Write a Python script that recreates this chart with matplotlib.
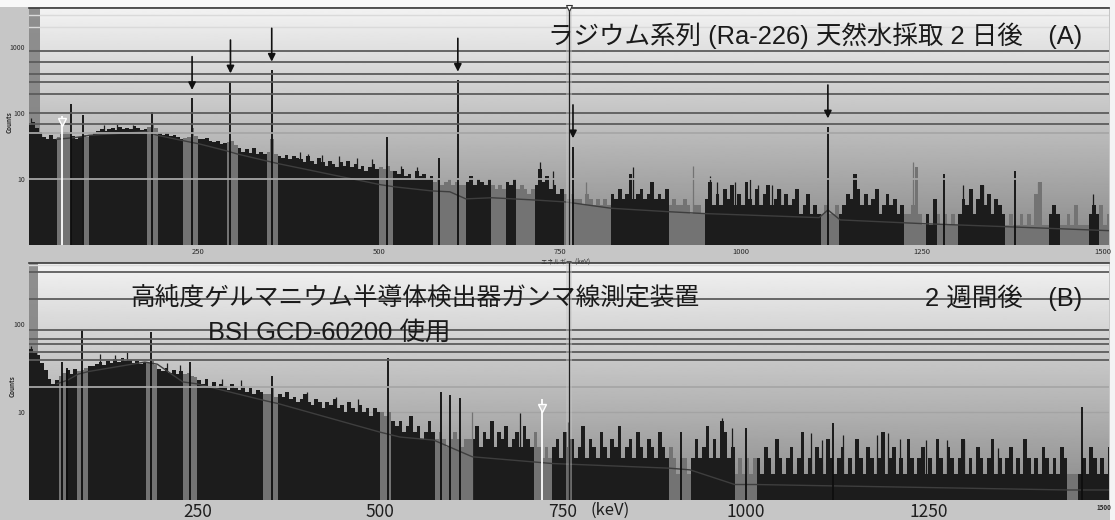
import numpy as np
import matplotlib
matplotlib.use("Agg")
import matplotlib.pyplot as plt
from matplotlib.patches import Rectangle
from matplotlib.ticker import NullLocator, FixedLocator, FixedFormatter

plt.rcParams['font.family'] = ['Noto Sans CJK JP', 'DejaVu Sans']

W, H, DPI = 1115, 520, 100

# energy binning of the spectra (keV)
BIN_START = 15
BIN_WIDTH = 5

# ---------------- (A) 2 days after sampling ----------------
counts_a_low = [  # 15-515 keV
    66, 74, 60, 52, 44, 40, 46, 41, 44, 48, 52, 50, 45, 40, 43, 46, 44, 47, 49,
    54, 57, 53, 58, 60, 56, 62, 58, 60, 57, 63, 59, 56, 58,
    62, 66, 60, 50, 47, 49, 45, 47, 43, 41, 42, 44, 60, 45, 40,
    40, 42, 38, 36, 38, 34, 35, 36, 38, 33,
    29, 26, 28, 25, 30, 24, 26, 24, 26, 40, 24, 22, 21, 23, 20, 22, 21,
    20, 18, 22, 19, 17, 21, 18, 16, 19, 17, 15, 18, 16, 19, 15, 17, 14, 16, 13, 15, 17, 14, 15,
    14, 16]
counts_a_mid = [  # 515-1015 keV
    13, 13, 12, 14, 11, 12, 10, 13, 11, 12, 10, 11,
    9, 10, 8, 9, 10, 8, 9, 8, 8,
    9, 11, 8, 10, 9, 8, 10, 8, 7, 8, 7, 9, 8, 10, 7, 8, 7, 6, 7,
    8, 14, 9, 11, 7, 8, 6, 7, 6,
    5, 6, 5, 5, 4, 6, 5, 4, 5, 4, 5, 4,
    6, 5, 7, 5, 6, 12, 5, 6, 7, 5, 6, 9, 5, 6, 5, 7,
    4, 5, 4, 4, 5, 4, 3, 4, 4, 3,
    5, 9, 4, 6, 4, 7, 5, 8, 4, 6, 4, 9, 5]
counts_a_high = [  # 1015-1510 keV
    4, 7, 4, 6, 8, 4, 5, 7, 4, 6, 4, 5, 7, 3, 4, 6, 3, 4, 3,
    3, 4, 3, 3, 4, 3,
    4, 6, 5, 12, 7, 4, 6, 4, 5, 7, 3, 4, 6, 4, 5, 3, 4,
    3, 3, 4, 15, 3, 2, 3, 2, 5, 3, 2, 3, 2, 3, 2,
    3, 5, 4, 7, 3, 5, 8, 4, 6, 3, 5, 4, 3,
    2, 3, 2, 2, 3, 2, 3, 2, 6, 9, 2, 2, 3, 4, 3,
    2, 2, 3, 2, 4, 2, 2, 2, 3, 4, 3, 4, 2, 3]

rois_a = [(55, 76), (91, 100), (178, 194), (230, 252), (288, 304), (343, 362),
          (502, 522), (573, 620), (656, 677), (692, 716), (757, 821), (899, 948),
          (1108, 1137), (1224, 1254), (1268, 1298), (1363, 1424), (1441, 1478),
          (1496, 1510)]
peaks_a_kev = [75, 92, 186, 242, 295, 352, 511, 583, 609, 768, 1120, 1281, 1378]
peaks_a_cnt = [137, 93, 103, 167, 298, 449, 43, 21, 316, 31, 62, 12, 13]
spikes_a_kev = [20, 33, 120, 138, 161, 391, 402, 421, 445, 470, 490, 531, 553,
                722, 740, 786, 851, 934, 957, 967, 992, 1013, 1024, 1043, 1054,
                1077, 1238, 1307, 1334, 1410, 1486]
spikes_a_cnt = [84, 48, 66, 68, 66, 26, 24, 23, 22, 21, 20, 16, 15,
                18, 13, 9, 15, 16, 11, 9, 9, 10, 8, 8, 7,
                7, 18, 8, 8, 9, 6]
arrows_a_kev = [242, 295, 352, 609, 768, 1120]
cont_a_kev = [55, 76, 91, 100, 178, 194, 230, 252, 288, 304, 343, 362, 502, 522,
              573, 598, 620, 656, 716, 757, 821, 899, 948, 1108, 1120, 1137,
              1254, 1363, 1508]
cont_a_cnt = [40, 42, 44, 46, 52, 46, 38, 34, 27, 24, 19, 17, 8.2, 7.6,
              6.6, 6.4, 5.0, 5.2, 4.8, 4.5, 3.6, 3.2, 3.0, 2.6, 3.4, 2.4,
              2.1, 1.9, 1.65]
grid_a_dark = [880, 593, 390, 295, 194, 100, 68]
grid_a_light = [50, 10]
grid_a_faint = [3055, 2010]

# ---------------- (B) 2 weeks after sampling ----------------
counts_b_low = [  # 15-515 keV
    48, 52, 47, 44, 36, 30, 24, 21, 23, 26, 28, 30, 27, 31, 29, 30, 32, 33,
    33, 35, 37, 34, 38, 36, 40, 37, 41, 38, 39, 36, 38, 35, 37,
    36, 38, 34, 31, 29, 32, 28, 30, 27, 29, 27, 28, 26, 25,
    23, 21, 24, 20, 22, 19, 21, 20, 18, 21, 19, 18, 20, 17, 19, 16, 18, 17, 16,
    16, 19, 15,
    16, 15, 17, 14, 15, 13, 14, 16, 13, 12, 14, 13, 11, 13, 12, 14, 11, 12, 10, 13,
    11, 10, 12, 10, 11, 9, 11, 10,
    10, 9, 10]
counts_b_mid = [  # 515-1015 keV
    8, 7, 8, 6, 7, 9, 6, 7, 5, 6, 8, 6,
    5, 6, 5, 4, 5, 6, 5, 4, 5, 5,
    5, 7, 4, 6, 5, 8, 4, 6, 5, 7, 4, 5, 6, 4, 7, 5, 4, 6,
    4, 3, 4, 3,
    4, 5, 3, 6, 4, 5, 3, 4, 7, 3, 5, 4, 3, 6, 4, 3, 5, 4, 7, 3, 4, 5, 3, 6,
    4, 3, 5, 4, 3, 6, 4, 3, 4,
    3, 2, 3, 3, 2,
    3, 5, 3, 4, 7, 3, 5, 3, 8, 6, 3, 4,
    2, 3, 2, 3, 2, 3]
counts_b_high = [  # 1015-1510 keV
    3, 2, 4, 3, 2, 5, 3, 2, 3, 4, 2, 3, 6, 2, 3, 2, 4, 3, 2, 5, 3, 2, 3, 4, 2,
    3, 2, 5, 3, 2, 4, 3, 2, 3, 6, 2, 3, 4, 2, 3, 2, 5, 3, 2, 3, 4, 2, 3, 2, 5,
    3, 2, 4, 3, 2, 3, 5, 2, 3, 2, 4, 3, 2, 3, 5, 2, 3, 2, 3, 4, 2, 3, 2, 5, 3,
    2, 3, 2, 4, 3, 2, 3, 2, 4, 3,
    2, 2, 2,
    2, 3, 2, 4, 3, 2, 3, 2, 4, 2, 3]

rois_b = [(58, 72), (87, 102), (178, 195), (230, 248), (342, 360), (500, 515),
          (573, 626), (712, 735), (896, 924), (985, 1013), (1441, 1455)]
peaks_b_kev = [64, 72, 92, 186, 240, 352, 511, 583, 595, 609, 911, 1001, 1120, 1460]
peaks_b_cnt = [37, 32, 85, 81, 37, 26, 41, 17, 15.6, 14.4, 5.9, 6.6, 7.5, 11.4]
spikes_b_kev = [22, 117, 137, 153, 208, 226, 283, 310, 400, 440, 470, 625, 691,
                757, 967, 981, 1090, 1104, 1133, 1179, 1195, 1211, 1247, 1275,
                1298, 1345]
spikes_b_cnt = [56, 46, 44, 48, 36, 34, 24, 23, 17, 15, 14, 10, 9.7,
                7.8, 8.5, 6.6, 5.8, 4.8, 5.5, 5.5, 5.8, 5.0, 4.8, 4.8,
                4.8, 3.9]
cont_b_kev = [58, 72, 87, 102, 178, 195, 230, 248, 342, 360, 500, 527, 573, 626,
              712, 735, 896, 924, 985, 1013, 1441, 1497]
cont_b_cnt = [21, 23, 27, 29, 37, 35, 22, 21, 13.5, 12.5, 5.9, 5.2, 4.8, 3.1,
              2.7, 2.6, 2.3, 2.2, 1.5, 1.5, 1.3, 1.3]
grid_b_dark = [390, 192, 85.5, 67.6, 59.3, 48.1, 39]
grid_b_light = [19.2]
grid_b_faint = [470]

# channel cursor and marker cursors (keV)
cursor_a, cursor_b = 762.6, 758.2
marker_a, marker_b = 62.4, 721.3

FILL = '#1c1c1c'
ROI_FILL = '#737373'


def px_box(left, top, right, bottom):
    return [left / W, 1 - bottom / H, (right - left) / W, (bottom - top) / H]


def roi_mask(energies, rois):
    energies = np.asarray(energies, dtype=float)
    mask = np.zeros(len(energies), bool)
    for lo, hi in rois:
        mask |= (energies >= lo) & (energies < hi)
    return mask


def draw_panel(box, xlim, ylim, counts, rois, pk_e, pk_c, sp_e, sp_c, cont_e, cont_c,
               dark, light, faint, strip_kev, cursor, marker, marker_top):
    bg = fig.add_axes(box, zorder=0)
    grad = np.linspace(0.95, 0.54, 256)[:, None]
    bg.imshow(grad, cmap='gray', vmin=0, vmax=1, aspect='auto',
              extent=(0, 1, 0, 1), interpolation='bilinear')
    bg.axis('off')

    ax = fig.add_axes(box, zorder=1)
    ax.patch.set_alpha(0)
    ax.set_yscale('log')

    counts = np.asarray(counts, dtype=float)
    lefts = BIN_START + BIN_WIDTH * np.arange(len(counts))
    colors = np.where(roi_mask(lefts + BIN_WIDTH / 2, rois), ROI_FILL, FILL)

    for v in faint:
        ax.axhline(v, color='#dadada', lw=1.0, zorder=1)
    ax.axvspan(xlim[0], strip_kev, color='#7e7e7e', alpha=0.85, lw=0, zorder=0.5)
    ax.bar(lefts, counts - 0.1, bottom=0.1, width=BIN_WIDTH, align='edge',
           color=colors, linewidth=0, antialiased=False, zorder=2)
    sp_colors = np.where(roi_mask(sp_e, rois), ROI_FILL, FILL)
    ax.vlines(sp_e, 0.1, sp_c, colors=sp_colors, lw=0.9, zorder=2.1)
    ax.vlines(pk_e, 0.1, pk_c, colors='#0e0e0e', lw=1.3, zorder=3)
    ax.plot(cont_e, cont_c, color='#3e3e3e', lw=1.0, zorder=2.5)

    for v in dark:
        ax.axhline(v, color='#5c5c5c', lw=1.3, zorder=3.2)
    for v in light:
        ax.axhline(v, color='#a6a6a6', lw=1.3, zorder=3.2)

    # channel cursor
    ax.axvspan(cursor - 4, cursor + 4, color='#c8c8c8', alpha=0.45, lw=0, zorder=3.4)
    ax.axvline(cursor, color='#202020', lw=0.9, zorder=3.5)
    # marker cursor
    ax.vlines(marker, 0.1, marker_top, colors='white', lw=1.3, zorder=4)
    ax.plot(marker, marker_top * 0.8, marker='v', ms=6, mfc='#cfcfcf',
            mec='white', mew=1.0, zorder=4.1)

    ax.set_xlim(*xlim)
    ax.set_ylim(*ylim)
    for s in ('left', 'right', 'bottom'):
        ax.spines[s].set_visible(False)
    ax.spines['top'].set_color('#3a3a3a')
    ax.spines['top'].set_linewidth(1.2)
    ax.yaxis.set_minor_locator(NullLocator())
    ax.tick_params(length=0)
    return ax


fig = plt.figure(figsize=(W / DPI, H / DPI), dpi=DPI, facecolor='#c6c6c6')
fig.patches.append(Rectangle((0, 1 - 7 / H), 1, 7 / H, transform=fig.transFigure,
                             facecolor='#f8f8f8', edgecolor='none', zorder=-1))
fig.patches.append(Rectangle((1110 / W, 0), 5 / W, 1, transform=fig.transFigure,
                             facecolor='#f4f4f4', edgecolor='none', zorder=-1))

counts_a = counts_a_low + counts_a_mid + counts_a_high
counts_b = counts_b_low + counts_b_mid + counts_b_high

ax_a = draw_panel(px_box(29, 8, 1109, 245), (16.8, 1508.2), (1, 3900), counts_a,
                  rois_a, peaks_a_kev, peaks_a_cnt, spikes_a_kev, spikes_a_cnt,
                  cont_a_kev, cont_a_cnt, grid_a_dark, grid_a_light, grid_a_faint,
                  32, cursor_a, marker_a, 90)
ax_b = draw_panel(px_box(29, 263, 1109, 500), (19.5, 1497), (1, 495), counts_b,
                  rois_b, peaks_b_kev, peaks_b_cnt, spikes_b_kev, spikes_b_cnt,
                  cont_b_kev, cont_b_cnt, grid_b_dark, grid_b_light, grid_b_faint,
                  31.8, cursor_b, marker_b, 14)
# the 10-count line is drawn in the tone of the backdrop, under the spectrum
ax_b.axhline(10, color='#a3a3a3', lw=1.0, zorder=1.5)

# arrows marking the radium-series photopeaks
peak_lookup = dict(zip(peaks_a_kev, peaks_a_cnt))
for e in arrows_a_kev:
    ax_a.annotate('', xy=(e, peak_lookup[e]), xytext=(0, 30), textcoords='offset points',
                  arrowprops=dict(arrowstyle='-|>', color='#111111', lw=1.2,
                                  shrinkA=0, shrinkB=6, mutation_scale=11),
                  zorder=5)
ax_a.plot(cursor_a, 3900, marker='v', ms=5, mfc='white', mec='#333333',
          mew=0.8, clip_on=False, zorder=6)

# axis labelling, panel A (small instrument-style labels)
small = dict(fontsize=4.5, fontweight='bold', color='#2a2a2a')
ax_a.yaxis.set_major_locator(FixedLocator([10, 100, 1000]))
ax_a.yaxis.set_major_formatter(FixedFormatter(['10', '100', '1000']))
ax_a.tick_params(axis='y', pad=3, labelsize=5, labelcolor='#2a2a2a')
ax_a.xaxis.set_major_locator(FixedLocator([250, 500, 750, 1000, 1250, 1500]))
ax_a.xaxis.set_major_formatter(FixedFormatter(['250', '500', '750', '1000', '1250', '1500']))
ax_a.tick_params(axis='x', pad=2, labelsize=5.5, labelcolor='#2a2a2a')
ax_a.text(-0.0185, 0.52, 'Counts', transform=ax_a.transAxes, rotation=90,
          ha='center', va='center', **small)
ax_a.annotate('エネルギー  (keV)', xy=(750, 0), xycoords=('data', 'axes fraction'),
              xytext=(4, -9), textcoords='offset points', ha='center', va='top',
              fontsize=4.5, color='#2a2a2a')

# axis labelling, panel B
ax_b.yaxis.set_major_locator(FixedLocator([10, 100]))
ax_b.yaxis.set_major_formatter(FixedFormatter(['10', '100']))
ax_b.tick_params(axis='y', pad=3, labelsize=5, labelcolor='#2a2a2a')
ax_b.xaxis.set_major_locator(FixedLocator([250, 500, 750, 1000, 1250]))
ax_b.xaxis.set_major_formatter(FixedFormatter(['250', '500', '750', '1000', '1250']))
ax_b.tick_params(axis='x', pad=2, labelsize=12.5, labelcolor='#1e1e1e')
ax_b.annotate('(keV)', xy=(750, 0), xycoords=('data', 'axes fraction'),
              xytext=(34, -1.5), textcoords='offset points', ha='center', va='top',
              fontsize=12, color='#1e1e1e')
ax_b.annotate('1500', xy=(1, 0), xycoords='axes fraction', xytext=(-4, -3),
              textcoords='offset points', ha='center', va='top', **small)
ax_b.text(-0.016, 0.48, 'Counts', transform=ax_b.transAxes, rotation=90,
          ha='center', va='center', **small)

# captions
cap = dict(color='#1a1a1a', va='center', ha='left',
           family=['Liberation Sans', 'Noto Sans CJK JP'])
fig.text(548 / W, 1 - 36 / H, 'ラジウム系列 (Ra-226) 天然水採取 2 日後　(A)',
         fontsize=18.4, **cap)
fig.text(130 / W, 1 - 298 / H, '高純度ゲルマニウム半導体検出器ガンマ線測定装置',
         fontsize=17.8, **cap)
fig.text(925 / W, 1 - 298 / H, '2 週間後　(B)', fontsize=18.4, **cap)
fig.text(208 / W, 1 - 333 / H, 'BSI GCD-60200 使用', fontsize=18.4, **cap)

fig.savefig('out.png', dpi=DPI, facecolor=fig.get_facecolor())
